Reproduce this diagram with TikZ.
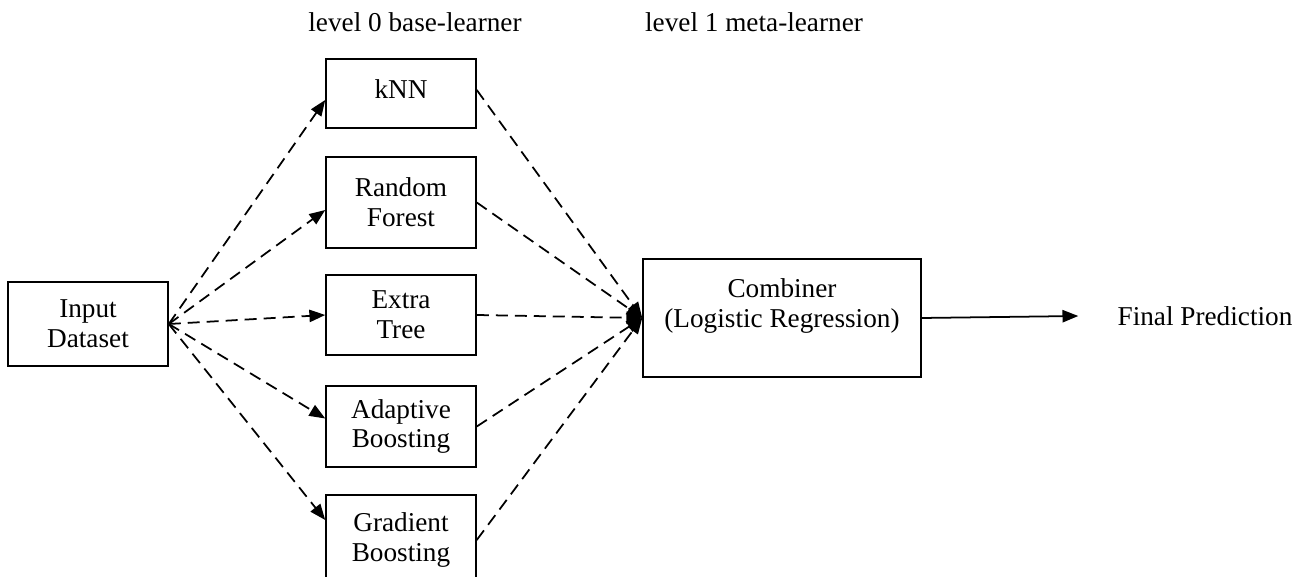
\documentclass[tikz,border=0pt]{standalone}
\usepackage{fontspec}
\setmainfont{Liberation Serif}
\usepackage{tikz}
\usetikzlibrary{arrows.meta}
\tikzset{
  blk/.style   = {draw, line width=0.9pt, align=center, inner sep=0pt},
  base/.style  = {blk, minimum width=3cm},
  dsh/.style   = {line width=1pt, dash pattern=on 0.24cm off 0.14cm,
                  -{Triangle[length=9pt,width=7pt]}},
  head/.style  = {inner sep=0pt},
}

\begin{document}
\begin{tikzpicture}[x=0.02cm, y=-0.02cm,
  every node/.style={font=\fontsize{15.5}{17}\selectfont}]
\useasboundingbox (0,0) rectangle (1313,577);
\node[head] (lv0) at (415,22) {level 0 base-learner};
\node[head] (lv1) at (754,22) {level 1 meta-learner};

\node[blk, minimum width=3.2cm, minimum height=1.68cm] (inp) at (88,324) {Input\\Dataset};

\node[base, minimum height=1.38cm] (knn) at (401,93.5) {kNN\\[-0.4cm]~};
\node[base, minimum height=1.82cm] (rf)  at (401,202.5) {Random\\Forest};
\node[base, minimum height=1.6cm]  (et)  at (401,315) {Extra\\Tree};
\node[base, minimum height=1.62cm] (ab)  at (401,426.5) {Adaptive\\Boosting};
\node[base, minimum height=1.8cm]  (gb)  at (401,540) {Gradient\\Boosting};

\node[blk, minimum width=5.56cm, minimum height=2.36cm] (comb) at (782,318)
  {Combiner\\(Logistic Regression)\\~};
\node[head] (fp) at (1205,316) {Final Prediction};

\draw[dsh] (inp.east) -- ([yshift=-0.13cm]knn.west);
\draw[dsh] (inp.east) -- ([yshift=-0.15cm]rf.west);
\draw[dsh] (inp.east) -- (et.west);
\draw[dsh] (inp.east) -- ([yshift=0.16cm]ab.west);
\draw[dsh] (inp.east) -- ([yshift=0.4cm]gb.west);

\draw[dsh] ([yshift=0.07cm]knn.east) -- (comb.west);
\draw[dsh] (rf.east) -- (comb.west);
\draw[dsh] (et.east) -- (comb.west);
\draw[dsh] (ab.east) -- (comb.west);
\draw[dsh] (gb.east) -- (comb.west);

\draw[line width=1pt, -{Triangle[length=9pt,width=7pt]}]
  (comb.east) -- ([xshift=-0.78cm]fp.west);
\end{tikzpicture}
\end{document}
